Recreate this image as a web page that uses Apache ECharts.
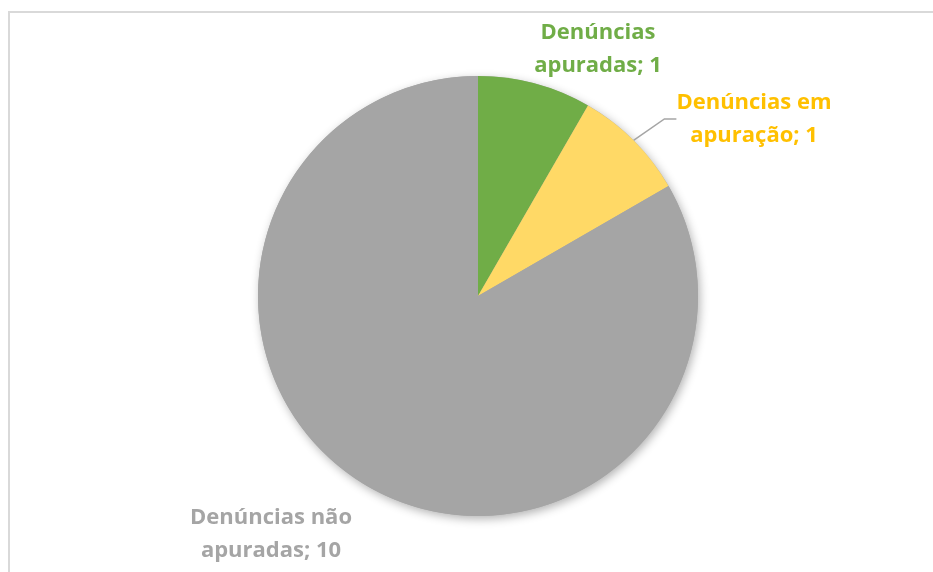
<!DOCTYPE html>
<html>
<head>
<meta charset="utf-8">
<script src="https://cdn.jsdelivr.net/npm/echarts@6/dist/echarts.min.js"></script>
<style>
  html, body { margin: 0; padding: 0; background: #fff; }
  #chart { width: 933px; height: 572px; }
</style>
</head>
<body>
<div id="chart"></div>
<script>
var categories = ['Denúncias apuradas', 'Denúncias em apuração', 'Denúncias não apuradas']
var values = [1, 1, 10]
var colors = ['#70AD47', '#FFD966', '#A5A5A5']
var labelColors = ['#70AD47', '#FFC000', '#A5A5A5']
// label text, split the way the reference wraps it
var labelLines = [
	['Denúncias', 'apuradas; 1'],
	['Denúncias em', 'apuração; 1'],
	['Denúncias não', 'apuradas; 10'],
]

var chart = echarts.init(document.getElementById('chart'))

var labelSpots = [
	{ x: 598, y: 49 },
	{ x: 754, y: 119 },
	{ x: 271, y: 534 },
]

var total = values.reduce(function (a, b) { return a + b }, 0)

var pieData = categories.map(function (name, i) {
	return {
		name: name,
		value: values[i],
		itemStyle: { color: colors[i] },
		label: { color: labelColors[i] },
		labelLine: { show: i === 1 },
	}
})

var option = {
	animation: false,
	backgroundColor: '#fff',
	graphic: [
		{
			type: 'rect',
			shape: { x: 9, y: 12, width: 1000, height: 1000 },
			style: { fill: 'none', stroke: '#d9d9d9', lineWidth: 2 },
			silent: true,
		},
	],
	series: [
		{
			// soft shadow under the whole pie
			type: 'pie',
			center: [478, 296],
			radius: 220,
			silent: true,
			z: 1,
			label: { show: false },
			labelLine: { show: false },
			itemStyle: {
				color: '#A5A5A5',
				shadowBlur: 10,
				shadowColor: 'rgba(0,0,0,0.3)',
				shadowOffsetX: 2,
				shadowOffsetY: 3,
			},
			data: [{ name: 'total', value: total }],
		},
		{
			type: 'pie',
			center: [478, 296],
			radius: 220,
			startAngle: 90,
			clockwise: true,
			z: 2,
			itemStyle: { borderWidth: 0 },
			label: {
				show: true,
				position: 'outside',
				fontFamily: 'Open Sans',
				fontWeight: 'bold',
				fontSize: 22,
				lineHeight: 33,
				formatter: function (p) {
					return labelLines[p.dataIndex].join('\n')
				},
			},
			labelLine: {
				show: true,
				length: 38,
				length2: 12,
				lineStyle: { color: '#A5A5A5', width: 1.5 },
			},
			labelLayout: function (params) {
				var s = labelSpots[params.dataIndex]
				return { x: s.x, y: s.y, align: 'center', verticalAlign: 'middle' }
			},
			emphasis: { disabled: true },
			data: pieData,
		},
	],
}

chart.setOption(option)
</script>
</body>
</html>
